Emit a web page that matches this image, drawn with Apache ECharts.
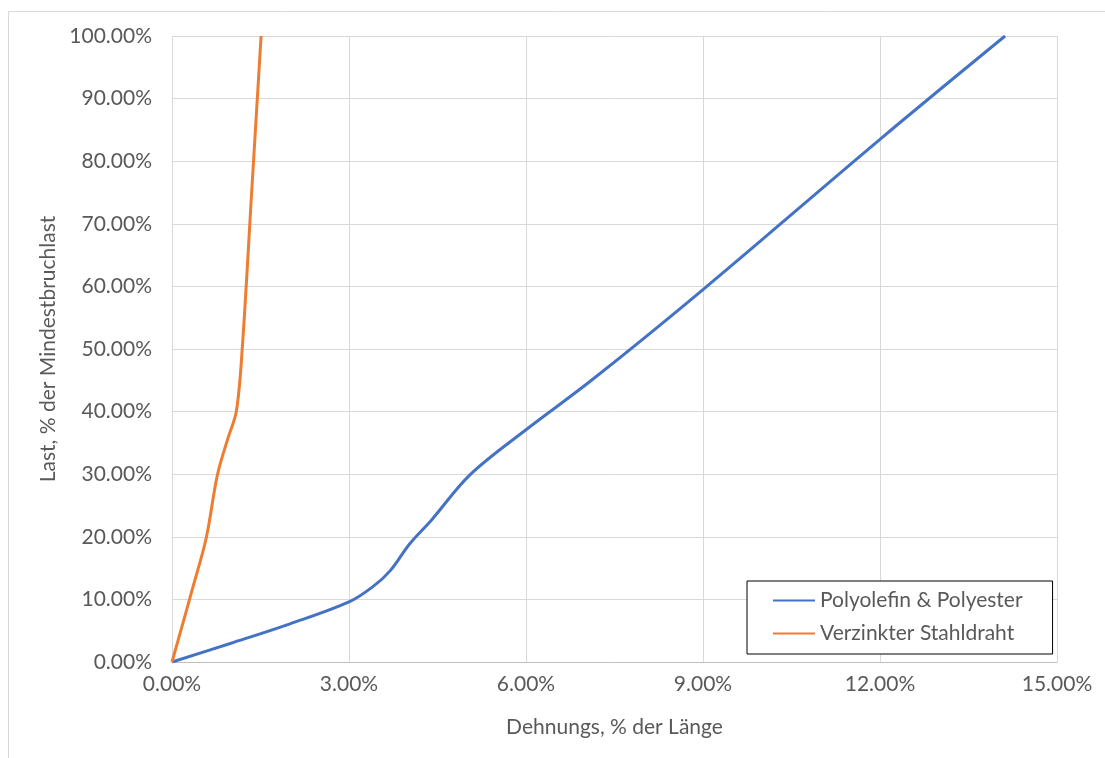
<!DOCTYPE html>
<html>
<head>
<meta charset="utf-8">
<script src="https://cdn.jsdelivr.net/npm/echarts@6/dist/echarts.min.js"></script>
<style>
  html, body { margin: 0; padding: 0; background: #fff; }
  #chart { width: 1105px; height: 758px; }
</style>
</head>
<body>
<div id="chart"></div>
<script>
// Dehnung (% der Länge) / Last (% der Mindestbruchlast)
const polyX = [0, 1, 2, 3.0, 3.4, 3.7, 4.03, 4.4, 5.05, 6.0, 7.11, 9, 12, 14.12];
const polyY = [0, 3.0, 6.1, 9.6, 12.0, 14.6, 18.9, 22.7, 29.9, 37.1, 45.0, 59.5, 83.5, 100];

const stahlX = [0, 0.35, 0.58, 0.77, 0.95, 1.09, 1.19, 1.35, 1.51];
const stahlY = [0, 11.8, 19.8, 29.9, 35.8, 40.0, 50, 75, 100];

const seriesNames = ['Polyolefin & Polyester', 'Verzinkter Stahldraht'];
const xAxisName = 'Dehnungs, % der Länge';
const yAxisName = 'Last, % der Mindestbruchlast';

const font = 'Lato, "Noto Sans", sans-serif';
const textColor = '#595959';

const pairs = (xs, ys) => xs.map((x, i) => [x, ys[i]]);
const pct = v => v.toFixed(2) + '%';

const chart = echarts.init(document.getElementById('chart'));

chart.setOption({
  backgroundColor: '#fff',
  animation: false,
  textStyle: { fontFamily: font, color: textColor },
  graphic: [{
    type: 'rect',
    shape: { x: 8.5, y: 11.5, width: 1200, height: 800 },
    style: { fill: 'none', stroke: '#d9d9d9', lineWidth: 1 },
    silent: true
  }],
  grid: { left: 172, right: 48, top: 36, bottom: 96 },
  legend: {
    orient: 'vertical',
    left: 747,
    top: 581,
    padding: [9, 30, 10, 25],
    itemGap: 12,
    itemWidth: 42,
    itemHeight: 14,
    itemStyle: { opacity: 0 },
    backgroundColor: '#fff',
    borderColor: '#000',
    borderWidth: 1,
    textStyle: { fontFamily: font, fontSize: 21, color: textColor },
    data: seriesNames
  },
  xAxis: {
    type: 'value',
    min: 0,
    max: 15,
    interval: 3,
    name: xAxisName,
    nameLocation: 'middle',
    nameGap: 55,
    nameTextStyle: { fontFamily: font, fontSize: 21, color: textColor },
    axisLine: { show: true, lineStyle: { color: '#bfbfbf', width: 1 } },
    axisTick: { show: false },
    axisLabel: { margin: 12, fontSize: 21, color: textColor, formatter: pct },
    splitLine: { show: true, lineStyle: { color: '#d9d9d9', width: 1 } }
  },
  yAxis: {
    type: 'value',
    min: 0,
    max: 100,
    interval: 10,
    name: yAxisName,
    nameLocation: 'middle',
    nameRotate: 90,
    nameGap: 112,
    nameTextStyle: { fontFamily: font, fontSize: 21, color: textColor },
    axisLine: { show: true, lineStyle: { color: '#d9d9d9', width: 1 } },
    axisTick: { show: false },
    axisLabel: { margin: 20, fontSize: 21, color: textColor, formatter: pct },
    splitLine: { show: true, lineStyle: { color: '#d9d9d9', width: 1 } }
  },
  series: [
    {
      name: seriesNames[0],
      type: 'line',
      data: pairs(polyX, polyY),
      smooth: 0.35,
      symbol: 'none',
      lineStyle: { color: '#4472C4', width: 3 },
      itemStyle: { color: '#4472C4' }
    },
    {
      name: seriesNames[1],
      type: 'line',
      data: pairs(stahlX, stahlY),
      smooth: 0.35,
      symbol: 'none',
      lineStyle: { color: '#ED7D31', width: 3 },
      itemStyle: { color: '#ED7D31' }
    }
  ]
});
</script>
</body>
</html>
